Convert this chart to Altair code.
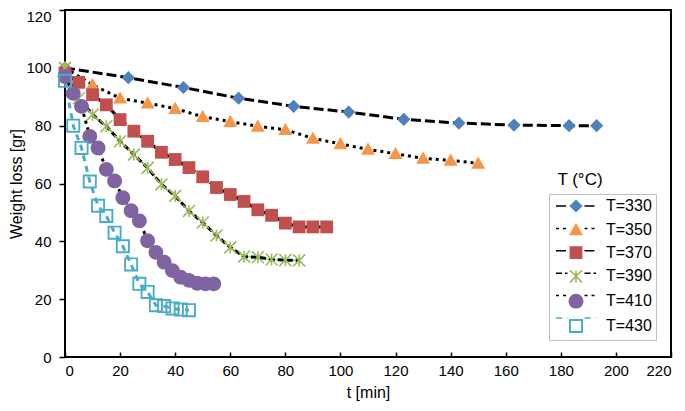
import math
import altair as alt
import pandas as pd

# ---------------- data ----------------
labels = ["T=330", "T=350", "T=370", "T=390", "T=410", "T=430"]

t330 = [0, 23, 43, 63, 83, 103, 123, 143, 163, 183, 193]
w330 = [100, 96.6, 93.2, 89.5, 86.7, 84.7, 82.2, 80.9, 80.2, 80.0, 80.0]

t350 = [0, 10, 20, 30, 40, 50, 60, 70, 80, 90, 100, 110, 120, 130, 140, 150]
w350 = [100, 94.1, 89.5, 87.8, 85.9, 83.1, 81.4, 79.8, 78.6, 75.6, 73.7, 71.8, 70.3, 68.7, 68.0, 67.0]

t370 = [0, 5, 10, 15, 20, 25, 30, 35, 40, 45, 50, 55, 60, 65, 70, 75, 80, 85, 90, 95]
w370 = [98, 95, 90.7, 87.2, 82.1, 78.1, 74.6, 70.8, 68.3, 65.5, 62.3, 58.6, 56.2, 53.8, 50.9, 49.0, 46.3, 45.0, 45.0, 45.0]

t390 = [0, 5, 10, 15, 20, 25, 30, 35, 40, 45, 50, 55, 60, 65, 70, 75, 80, 85]
w390 = [100, 89.5, 83.8, 79.8, 74.6, 70.0, 65.4, 59.7, 55.7, 50.5, 46.5, 42.0, 37.9, 34.7, 34.5, 33.7, 33.5, 33.4]

t410 = [0, 3, 6, 9, 12, 15, 18, 21, 24, 27, 30, 33, 36, 39, 42, 45, 48, 51, 54]
w410 = [97, 91.2, 86.7, 76.3, 72.3, 64.9, 60.9, 55.1, 50.6, 47.1, 40.2, 36.2, 32.8, 29.9, 27.6, 26.5, 25.5, 25.3, 25.3]

t430 = [0, 3, 6, 9, 12, 15, 18, 21, 24, 27, 30, 33, 36, 39, 42, 45]
w430 = [95.5, 80, 72.3, 60.7, 52.3, 48.8, 43.0, 38.3, 32.0, 25.3, 22.5, 17.9, 17.6, 16.8, 16.4, 16.2]

x_ticks = list(range(0, 221, 20))
y_ticks = list(range(0, 121, 20))

series_t = [t330, t350, t370, t390, t410, t430]
series_w = [w330, w350, w370, w390, w410, w430]

rows = []
for lab, ts, ws in zip(labels, series_t, series_w):
    for t, w in zip(ts, ws):
        rows.append({"t": t, "w": w, "label": lab, "label2": lab})
df = pd.DataFrame(rows)

# ---------------- styles ----------------
FONT = "Liberation Sans"
marker_colors = ["#4F81BD", "#F79646", "#C0504D", "#9BBB59", "#8064A2", "#4BACC6"]
line_colors = ["#000000", "#000000", "#000000", "#000000", "#000000", "#4BACC6"]
line_dashes = [[10, 4], [3, 4], [10, 4], [6, 3], [3, 4], [6, 5]]


def bar(x1, y1, x2, y2, h):
    dx, dy = x2 - x1, y2 - y1
    L = math.hypot(dx, dy)
    nx, ny = -dy / L * h, dx / L * h
    pts = [(x1 + nx, y1 + ny), (x2 + nx, y2 + ny), (x2 - nx, y2 - ny), (x1 - nx, y1 - ny)]
    return "M" + "L".join(f"{px:.4f},{py:.4f}" for px, py in pts) + "Z"


# symbol unit = sqrt(SYM)/2 = 5 px
SYM = 100
a = 1.2
asterisk = bar(-a, -a, a, a, 0.16) + bar(-a, a, a, -a, 0.16) + bar(0, -a, 0, a, 0.16)
diamond = "M0,-1.32L1.32,0L0,1.32L-1.32,0Z"
triangle = "M0,-1.36L1.4,1.08L-1.4,1.08Z"
square = "M-1.28,-1.28H1.28V1.28H-1.28Z"
circle = "M1.48,0A1.48,1.48 0 1,1 -1.48,0A1.48,1.48 0 1,1 1.48,0Z"
hollow = "M-1.4,-1.4H1.4V1.4H-1.4Z" + "M-1.02,-1.02V1.02H1.02V-1.02Z"
shapes = [diamond, triangle, square, asterisk, circle, hollow]
legend_line = "M-4,0H-1.7M1.7,0H4"

common_leg = dict(
    orient="none", legendX=484, padding=4, symbolSize=SYM,
    symbolOffset=15, labelOffset=22,
    labelFont=FONT, labelFontSize=16, labelColor="black",
)
leg_markers = alt.Legend(legendY=184, title=None, strokeColor="#bfbfbf",
                         rowPadding=3.8, **common_leg)
leg_lines = alt.Legend(
    legendY=184 - 26.5, title="T (°C)", symbolType=legend_line, labelExpr="''",
    rowPadding=6.4,
    titleFont=FONT, titleFontSize=17, titleFontWeight="normal", titleColor="black",
    titleAnchor="middle", titlePadding=9.5, **common_leg,
)

x_enc = alt.X("t:Q", scale=alt.Scale(domain=[0, 220], nice=False),
              axis=alt.Axis(values=x_ticks, title="t [min]", offset=-5, tickSize=5,
                            labelPadding=6, domain=False, grid=False, titlePadding=6))
y_enc = alt.Y("w:Q", scale=alt.Scale(domain=[0, 120], nice=False),
              axis=alt.Axis(values=y_ticks, title="Weight loss [gr]", tickSize=6,
                            labelPadding=8, domain=False, grid=False, titlePadding=1,
                            labelOffset={"condition": {"test": "datum.value == 120", "value": 6}, "value": 0}))

base = alt.Chart(df)

green_line = base.transform_filter(alt.datum.label == "T=390").mark_line(
    color="#9BBB59", strokeWidth=1.2
).encode(x=x_enc, y=y_enc, detail="label:N")

lines = base.mark_line(strokeWidth=3).encode(
    x=x_enc, y=y_enc,
    stroke=alt.Stroke("label2:N", scale=alt.Scale(range=line_colors), legend=leg_lines),
    strokeDash=alt.StrokeDash("label2:N", scale=alt.Scale(range=line_dashes), legend=leg_lines),
)

points = base.mark_point(filled=True, size=SYM, opacity=1, stroke="transparent", strokeWidth=0).encode(
    x=x_enc, y=y_enc,
    color=alt.Color("label:N", scale=alt.Scale(domain=labels, range=marker_colors), legend=leg_markers),
    shape=alt.Shape("label:N", scale=alt.Scale(domain=labels, range=shapes), legend=leg_markers),
)

chart = alt.layer(green_line, lines, points).properties(
    width=606, height=347,
    autosize=alt.AutoSizeParams(type="none"),
    padding={"left": 57, "top": 2, "right": 6, "bottom": 46},
    background="white",
).configure_view(
    stroke="black", strokeWidth=2
).configure_axis(
    labelFont=FONT, labelFontSize=15, labelColor="black",
    titleFont=FONT, titleFontSize=16, titleFontWeight="normal", titleColor="black",
    tickColor="black", tickWidth=1.5,
)

chart.save("out.html", embed_options={"renderer": "svg", "actions": False})
